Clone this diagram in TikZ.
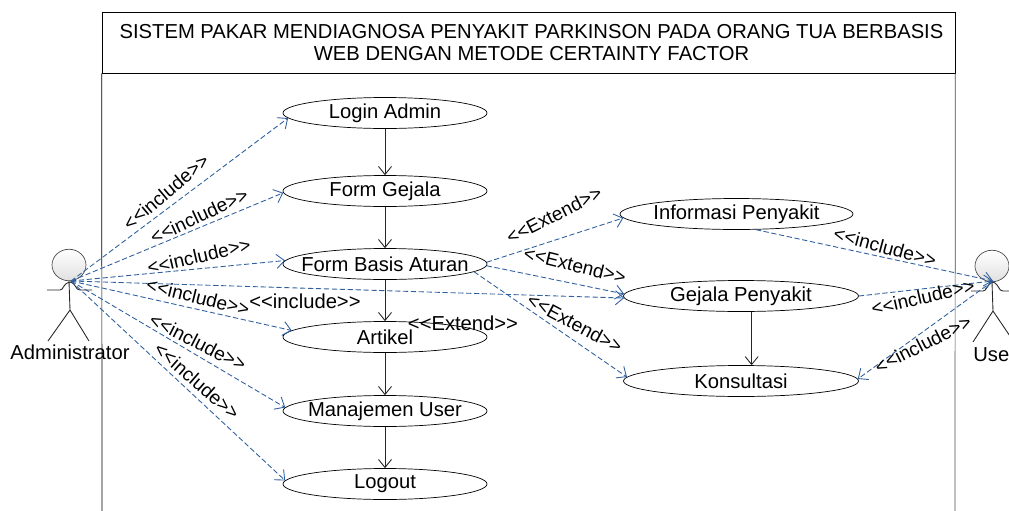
\documentclass[tikz,border=0pt]{standalone}
\usepackage{fontspec}
\setmainfont{Liberation Sans}
\usetikzlibrary{arrows.meta,positioning,shapes.geometric}
\definecolor{linkblue}{HTML}{2F5F9E}
\newcommand{\inctag}{{<}{<}include{>}{>}}
\newcommand{\exttag}{{<}{<}Extend{>}{>}}
\tikzset{
  usecase/.style={draw,ellipse,inner xsep=-8pt,inner ysep=0pt,minimum height=0.62cm},
  actorhead/.style={draw=black!70,ellipse,inner sep=0pt,minimum width=0.68cm,minimum height=0.63cm,top color=white,bottom color=black!12},
  stick/.style={draw=black!85,line width=0.5pt},
  flow/.style={-{Straight Barb[length=1.6mm,width=2.6mm]},black!85,line width=0.5pt},
  link/.style={-{Straight Barb[length=1.6mm,width=2.8mm]},linkblue,dash pattern=on 3pt off 1.5pt,line width=0.5pt},
  tag/.style={inner sep=0pt},
  tilttag/.style={inner sep=0pt,font=\fontsize{10.9pt}{12pt}\selectfont},
}
\begin{document}
\begin{tikzpicture}[x=0.02cm,y=-0.02cm,font=\fontsize{11.5pt}{12.6pt}\selectfont]
      \useasboundingbox (0,0) rectangle (1009,511);
      \clip (0,0) rectangle (1009,511);
      \node[draw,minimum width=17.06cm,minimum height=1.22cm,align=center,inner sep=0pt] (title) at (528.5,42.5)
        {\hspace*{0.12cm}SISTEM PAKAR MENDIAGNOSA PENYAKIT PARKINSON PADA ORANG TUA BERBASIS\\\hspace*{0.12cm}WEB DENGAN METODE CERTAINTY FACTOR};
      \coordinate (framel) at (102,511);
      \coordinate (framer) at (955,511);
      \draw (title.south west) -- (framel);
      \draw[black!70] (title.south east) -- (framer);

      \node[usecase,minimum width=4.08cm] (login) at (385,113) {Login Admin};
      \node[usecase,minimum width=4.08cm] (gejala) at (385,191) {Form Gejala};
      \node[usecase,minimum width=4.08cm] (basis) at (385,264) {Form Basis Aturan};
      \node[usecase,minimum width=4.08cm] (artikel) at (385,337) {Artikel};
      \node[usecase,minimum width=4.08cm] (manajemen) at (385,411) {Manajemen User};
      \node[usecase,minimum width=4.08cm] (logout) at (385,484) {Logout};
      \node[usecase,minimum width=4.66cm] (informasi) at (736.5,214) {Informasi Penyakit};
      \node[usecase,minimum width=4.70cm] (penyakit) at (741,296) {Gejala Penyakit};
      \node[usecase,minimum width=4.70cm] (konsultasi) at (741,381) {Konsultasi};

      \draw[flow] (login.south) -- (gejala.north);
      \draw[flow] (gejala.south) -- (basis.north);
      \draw[flow] (basis.south) -- (artikel.north);
      \draw[flow] (artikel.south) -- (manajemen.north);
      \draw[flow] (manajemen.south) -- (logout.north);
      \draw[flow] (penyakit.304) -- (konsultasi.56);

      \node[actorhead] (adminhead) at (69,265) {};
      \coordinate (adminhub) at (71,281);
      \coordinate (adminwaist) at (70,310);
      \coordinate (adminfootl) at (48,341);
      \coordinate (adminfootr) at (89,341);
      \coordinate (adminarml) at (47,290);
      \coordinate (adminarmr) at (92,290);
      \draw[stick] (adminhead.south) -- (adminwaist) -- (adminfootl) (adminwaist) -- (adminfootr);
      \draw[stick] (adminarml) -- (60,290) .. controls (64,290) and (62,284) .. (70,282) .. controls (77,284) and (75,290) .. (80,290) -- (adminarmr);
      \node (admin) at (70,352) {Administrator};

      \node[actorhead] (userhead) at (992,266) {};
      \coordinate (userhub) at (993,281);
      \coordinate (userwaist) at (993,311);
      \coordinate (userfootl) at (973,342);
      \coordinate (userfootr) at (1014,342);
      \coordinate (userarml) at (971,291);
      \coordinate (userarmr) at (1014,291);
      \draw[stick] (userhead.south) -- (userwaist) -- (userfootl) (userwaist) -- (userfootr);
      \draw[stick] (userarml) -- (983,291) .. controls (987,291) and (986,285) .. (993,282) .. controls (1000,285) and (998,291) .. (1003,291) -- (userarmr);
      \node[anchor=west,inner sep=0pt] (user) at (973,355) {User};

      \draw[link] (adminhub) -- (login.183);
      \draw[link] (adminhub) -- (gejala.181);
      \draw[link] (adminhub) -- (basis.178);
      \draw[link] (adminhub) -- (artikel.176);
      \draw[link] (adminhub) -- (manajemen.178);
      \draw[link] (adminhub) -- (logout.178);
      \draw[link] (adminhub) -- (penyakit.181);
      \draw[link] (basis.1) -- (informasi.182);
      \draw[link] (basis.359) -- (penyakit.179);
      \draw[link] (basis.355) -- (konsultasi.178);
      \draw[link] (informasi.321) -- (userhub);
      \draw[link] (penyakit.east) -- (userhub);
      \draw[link] (userhub) -- (konsultasi.1);

      \node[tilttag,rotate=40] (inc1) at (166,192) {\inctag};
      \node[tilttag,rotate=25] (inc2) at (199,216) {\inctag};
      \node[tilttag,rotate=13] (inc3) at (199,256) {\inctag};
      \node[tilttag,rotate=-14] (inc4) at (198,297) {\inctag};
      \node[tag] (inc5) at (305,301) {\inctag};
      \node[tilttag,rotate=-27] (inc6) at (198,342) {\inctag};
      \node[tilttag,rotate=-41] (inc7) at (197,381) {\inctag};
      \node[tag] (ext0) at (463,323) {\exttag};
      \node[tilttag,rotate=27] (ext1) at (554,215) {\exttag};
      \node[tilttag,rotate=-14] (ext2) at (575,265) {\exttag};
      \node[tilttag,rotate=-28] (ext3) at (575,323) {\exttag};
      \node[tilttag,rotate=-15] (inc8) at (885,247) {\inctag};
      \node[tilttag,rotate=13] (inc9) at (923,297) {\inctag};
      \node[tilttag,rotate=27] (inc10) at (923,344) {\inctag};
\end{tikzpicture}
\end{document}
